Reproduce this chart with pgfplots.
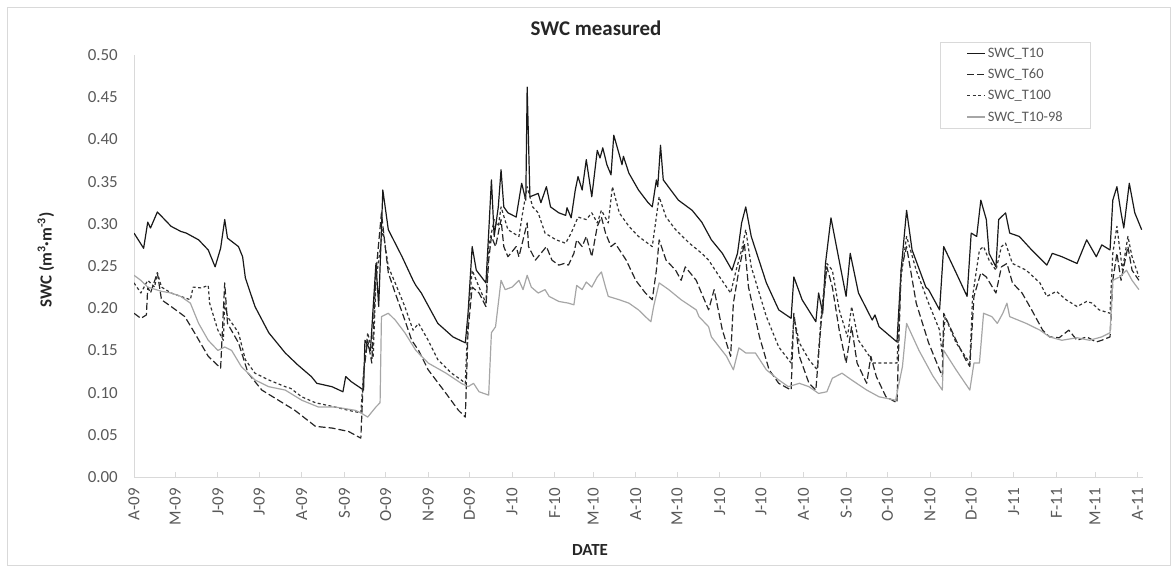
\documentclass[border=0pt]{standalone}
\usepackage{pgfplots}
\pgfplotsset{compat=1.18}
\usepackage{fontspec}
\setmainfont{Carlito}
\definecolor{txt}{HTML}{595959}
\definecolor{lgray}{HTML}{A6A6A6}
\definecolor{axgray}{HTML}{D9D9D9}
\begin{document}
\begin{tikzpicture}
\useasboundingbox (0bp,0bp) rectangle (1176bp,570bp);
\draw[axgray,line width=0.8bp] (7bp,5bp) rectangle (1170bp,563bp);
\begin{axis}[
  at={(134bp,93bp)}, anchor=south west, scale only axis,
  width=1009bp, height=422bp,
  xmin=0, xmax=734, ymin=0, ymax=0.5,
  axis x line*=bottom, axis y line*=left,
  axis line style={axgray, line width=0.8bp},
  xtick={0,30,61,91,122,153,183,214,244,275,306,334,365,395,426,456,487,518,548,579,609,640,671,699,730},
  xticklabels={A-09,M-09,J-09,J-09,A-09,S-09,O-09,N-09,D-09,J-10,F-10,M-10,A-10,M-10,J-10,J-10,A-10,S-10,O-10,N-10,D-10,J-11,F-11,M-11,A-11},
  x tick label style={rotate=90, anchor=east, inner sep=0pt, font=\fontsize{17}{17}\selectfont, text=txt},
  xticklabel shift=11bp,
  xtick style={axgray, line width=0.8bp},
  major tick length=5bp,
  tick align=inside,
  ytick={0,0.05,0.1,0.15,0.2,0.25,0.3,0.35,0.4,0.45,0.5},
  y tick label style={inner sep=0pt, font=\fontsize{17}{17}\selectfont, text=txt,
    /pgf/number format/.cd, fixed, fixed zerofill, precision=2, assume math mode=true},
  yticklabel shift=16bp,
  ytick style={draw=none},
  legend cell align=left,
  legend style={at={(0.799,1.031)}, anchor=north west, draw=axgray, line width=0.8bp,
    font=\fontsize{14.5}{14.5}\selectfont, text=txt, inner xsep=26bp, inner ysep=4bp,
    row sep=6bp, /tikz/every even column/.append style={column sep=0bp}},
  legend image code/.code={\draw[#1] (0bp,0bp) -- (18bp,0bp);},
  every axis plot/.append style={line width=1.2bp, line join=round},
]
\addplot[black!90] coordinates {
(0,0.289) (7,0.271) (10,0.302) (12,0.295) (17,0.314) (27,0.297) (34,0.291) (38,0.289)
(47,0.281) (54,0.269) (59,0.249) (63,0.271) (66,0.305) (68,0.283) (76,0.273) (79,0.261)
(81,0.236) (88,0.202) (98,0.171) (110,0.147) (119,0.133) (129,0.119) (133,0.111) (144,0.107)
(152,0.101) (154,0.119) (158,0.113) (167,0.103) (168,0.162) (172,0.150) (176,0.253) (178,0.202)
(181,0.340) (185,0.293) (195,0.261) (203,0.233) (205,0.227) (209,0.218) (221,0.182) (232,0.166)
(241,0.159) (243,0.194) (246,0.273) (249,0.245) (256,0.230) (258,0.289) (260,0.352) (262,0.285)
(265,0.320) (267,0.364) (269,0.320) (272,0.313) (278,0.308) (282,0.348) (285,0.328) (286,0.462)
(288,0.332) (294,0.336) (296,0.325) (300,0.344) (303,0.320) (309,0.313) (314,0.310) (315,0.319)
(318,0.307) (321,0.340) (323,0.356) (326,0.340) (329,0.376) (333,0.332) (337,0.387) (339,0.378)
(341,0.390) (344,0.370) (347,0.358) (349,0.405) (353,0.382) (355,0.370) (356,0.380) (360,0.360)
(367,0.340) (374,0.325) (377,0.320) (380,0.352) (381,0.344) (383,0.393) (385,0.352) (396,0.328)
(406,0.316) (413,0.302) (420,0.281) (428,0.265) (435,0.245) (439,0.265) (442,0.301) (445,0.320)
(449,0.285) (460,0.230) (469,0.198) (478,0.188) (480,0.237) (486,0.210) (496,0.184) (498,0.218)
(501,0.194) (503,0.253) (507,0.307) (511,0.273) (518,0.214) (521,0.265) (527,0.218) (537,0.186)
(539,0.192) (542,0.178) (555,0.160) (558,0.245) (562,0.316) (566,0.269) (576,0.225) (578,0.222)
(586,0.198) (589,0.273) (598,0.242) (606,0.214) (609,0.289) (613,0.285) (616,0.328) (620,0.305)
(622,0.265) (627,0.249) (629,0.305) (634,0.313) (637,0.289) (644,0.285) (653,0.269) (664,0.251)
(668,0.265) (675,0.261) (686,0.253) (693,0.281) (700,0.261) (704,0.275) (710,0.269) (712,0.328)
(715,0.344) (718,0.313) (720,0.295) (724,0.348) (728,0.313) (733,0.293)
};
\addlegendentry{SWC\_T10}
\addplot[black!85, dash pattern=on 7bp off 3bp] coordinates {
(0,0.194) (5,0.188) (9,0.192) (10,0.225) (12,0.218) (17,0.242) (20,0.210) (27,0.202)
(37,0.190) (44,0.171) (54,0.143) (63,0.129) (66,0.230) (68,0.182) (76,0.159) (83,0.123)
(93,0.103) (105,0.091) (117,0.079) (132,0.060) (144,0.058) (156,0.054) (165,0.046) (167,0.123)
(170,0.162) (173,0.135) (176,0.242) (180,0.313) (183,0.269) (185,0.242) (190,0.218) (197,0.186)
(202,0.162) (207,0.150) (214,0.127) (227,0.099) (236,0.079) (241,0.071) (243,0.174) (246,0.225)
(251,0.218) (256,0.202) (258,0.257) (260,0.285) (263,0.273) (267,0.305) (269,0.273) (272,0.261)
(278,0.273) (280,0.261) (286,0.301) (287,0.273) (292,0.257) (296,0.265) (300,0.273) (304,0.257)
(309,0.251) (313,0.253) (316,0.251) (320,0.265) (322,0.281) (326,0.273) (329,0.285) (333,0.261)
(337,0.297) (340,0.308) (343,0.289) (347,0.273) (350,0.277) (358,0.257) (365,0.233) (372,0.218)
(377,0.210) (380,0.245) (382,0.281) (387,0.257) (394,0.245) (398,0.233) (401,0.249) (409,0.233)
(411,0.225) (418,0.198) (422,0.222) (428,0.174) (434,0.143) (436,0.206) (440,0.245) (444,0.277)
(447,0.225) (455,0.166) (462,0.127) (469,0.111) (478,0.103) (480,0.194) (484,0.143) (491,0.111)
(496,0.103) (500,0.186) (504,0.249) (508,0.225) (513,0.174) (518,0.135) (522,0.178) (526,0.135)
(533,0.111) (536,0.143) (540,0.119) (547,0.095) (555,0.088) (558,0.245) (562,0.273) (569,0.206)
(578,0.159) (588,0.119) (589,0.194) (598,0.162) (605,0.139) (608,0.131) (611,0.214) (616,0.242)
(620,0.237) (627,0.218) (631,0.249) (635,0.253) (639,0.230) (646,0.218) (653,0.198) (661,0.174)
(666,0.166) (673,0.165) (680,0.174) (686,0.162) (693,0.166) (700,0.160) (704,0.162) (710,0.166)
(712,0.233) (715,0.265) (718,0.233) (723,0.273) (726,0.245) (731,0.233)
};
\addlegendentry{SWC\_T60}
\addplot[black!80, dash pattern=on 3bp off 2.5bp] coordinates {
(0,0.230) (5,0.218) (10,0.233) (15,0.225) (17,0.242) (20,0.225) (27,0.218) (34,0.214)
(41,0.210) (43,0.225) (49,0.224) (54,0.227) (55,0.206) (61,0.174) (65,0.162) (66,0.206)
(68,0.190) (76,0.171) (81,0.139) (88,0.123) (98,0.115) (110,0.107) (114,0.105) (122,0.095)
(132,0.088) (146,0.083) (156,0.079) (165,0.076) (167,0.123) (170,0.171) (174,0.143) (176,0.233)
(181,0.293) (185,0.249) (190,0.230) (197,0.202) (203,0.174) (207,0.182) (214,0.162) (221,0.139)
(231,0.123) (238,0.115) (241,0.111) (243,0.190) (246,0.245) (251,0.225) (256,0.206) (258,0.273)
(262,0.305) (265,0.297) (267,0.320) (272,0.293) (280,0.285) (283,0.316) (286,0.344) (290,0.320)
(294,0.313) (299,0.289) (307,0.281) (314,0.277) (318,0.289) (323,0.308) (329,0.305) (333,0.313)
(337,0.301) (340,0.316) (345,0.301) (348,0.344) (353,0.313) (360,0.297) (367,0.285) (377,0.273)
(382,0.332) (387,0.308) (394,0.293) (404,0.277) (413,0.265) (418,0.257) (426,0.237) (434,0.218)
(438,0.245) (442,0.269) (445,0.293) (449,0.249) (460,0.190) (469,0.154) (478,0.135) (480,0.190)
(484,0.159) (491,0.139) (497,0.127) (500,0.194) (504,0.253) (508,0.245) (513,0.198) (519,0.166)
(522,0.202) (527,0.162) (535,0.143) (537,0.135) (555,0.135) (558,0.237) (562,0.285) (569,0.245)
(578,0.206) (586,0.174) (588,0.143) (590,0.190) (598,0.159) (608,0.135) (610,0.214) (615,0.269)
(618,0.273) (622,0.257) (627,0.245) (631,0.273) (634,0.277) (639,0.253) (649,0.245) (659,0.230)
(664,0.214) (671,0.220) (678,0.210) (686,0.202) (693,0.208) (697,0.206) (702,0.198) (710,0.194)
(712,0.265) (715,0.297) (719,0.245) (723,0.285) (726,0.261) (731,0.237)
};
\addlegendentry{SWC\_T100}
\addplot[lgray] coordinates {
(0,0.239) (5,0.233) (10,0.225) (20,0.220) (27,0.218) (34,0.214) (41,0.206) (47,0.182)
(54,0.162) (61,0.150) (66,0.154) (71,0.150) (78,0.131) (88,0.115) (98,0.107) (110,0.103)
(122,0.091) (134,0.083) (146,0.083) (161,0.079) (165,0.076) (170,0.071) (176,0.083) (179,0.088)
(180,0.190) (185,0.194) (190,0.186) (197,0.171) (205,0.150) (214,0.135) (227,0.123) (238,0.111)
(243,0.107) (247,0.111) (251,0.101) (258,0.097) (260,0.171) (263,0.178) (267,0.233) (270,0.222)
(275,0.225) (280,0.233) (283,0.222) (286,0.239) (289,0.225) (294,0.218) (299,0.222) (302,0.214)
(309,0.208) (316,0.206) (320,0.204) (322,0.227) (326,0.222) (329,0.231) (333,0.225) (337,0.237)
(340,0.243) (343,0.225) (345,0.214) (353,0.210) (360,0.206) (367,0.198) (372,0.190) (376,0.184)
(378,0.202) (382,0.230) (389,0.222) (398,0.210) (409,0.198) (411,0.190) (418,0.178) (420,0.166)
(431,0.143) (436,0.127) (440,0.153) (445,0.147) (452,0.147) (460,0.127) (469,0.115) (476,0.107)
(484,0.111) (491,0.107) (498,0.099) (504,0.101) (508,0.117) (515,0.123) (522,0.115) (533,0.103)
(542,0.095) (554,0.091) (559,0.131) (562,0.182) (571,0.150) (581,0.120) (588,0.103) (589,0.150)
(598,0.127) (608,0.103) (611,0.135) (615,0.135) (618,0.194) (624,0.190) (628,0.182) (632,0.194)
(635,0.206) (637,0.190) (649,0.182) (659,0.174) (666,0.166) (675,0.162) (686,0.165) (695,0.162)
(704,0.166) (710,0.171) (712,0.233) (717,0.237) (722,0.245) (726,0.233) (731,0.222)
};
\addlegendentry{SWC\_T10-98}
\end{axis}
\node[font=\bfseries\fontsize{21}{21}\selectfont, text=black!85] at (596bp,542bp) {SWC measured};
\node[rotate=90, font=\bfseries\fontsize{17}{17}\selectfont, text=black!85] at (46bp,310bp) {SWC (m\textsuperscript{3}·m\textsuperscript{-3})};
\node[font=\bfseries\fontsize{17}{17}\selectfont, text=black!85] at (590bp,20bp) {DATE};
\end{tikzpicture}
\end{document}
